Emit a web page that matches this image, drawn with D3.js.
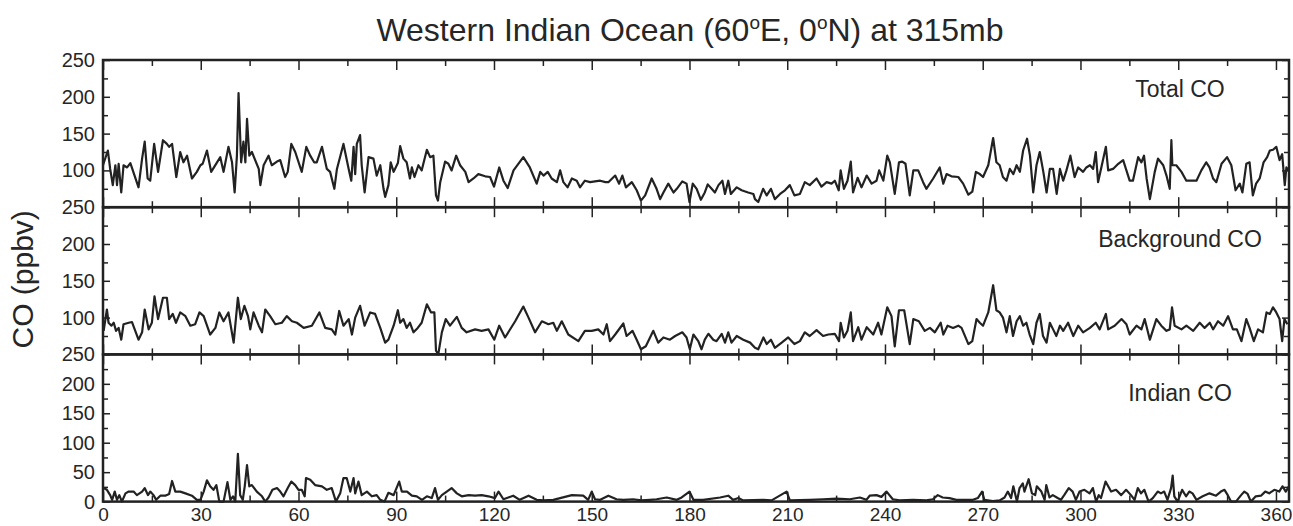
<!DOCTYPE html>
<meta charset="utf-8">
<script src="https://d3js.org/d3.v7.min.js"></script>
<head>
    <title>Western Indian Ocean CO</title>
    <style>
        body { margin: 0; background: #fff; }
        text { font-family: "Liberation Sans", Arial, sans-serif; fill: #262626; }
    </style>
</head>
<body>
<div id="chart"></div>
<script>
    // [day, ppbv]
    const totalCO = [[0,107],[1.5,127],[2.2,102],[3,80],[3.8,107],[4.3,80],[4.8,109],[5.6,70],[6.3,107],[7.4,104],[8.4,110],[10.9,77],[12,116],[12.8,139],[13.7,89],[14.5,86],[15.7,136],[16.9,98],[18.4,141],[19.6,136],[20.3,132],[21.2,136],[22.5,91],[23.7,125],[24.7,111],[25.8,120],[27.3,89],[28.8,98],[29.9,107],[30.6,109],[31.9,127],[33.2,98],[35,111],[36,118],[37,98],[38.5,132],[39.6,111],[40.4,70],[41.1,120],[41.6,205],[42.4,111],[43.1,139],[43.7,111],[44.2,170],[44.9,120],[45.7,125],[47.8,102],[48.3,80],[49.3,107],[50.8,120],[51.8,107],[53.4,112],[54.4,114],[55.9,91],[56.7,98],[57.8,136],[59,125],[61,98],[62.4,132],[63.6,120],[64.8,111],[65.6,111],[67.2,132],[68.7,102],[69.7,98],[71,75],[71.8,102],[73.8,136],[75.4,102],[76.2,86],[76.9,132],[77.4,95],[77.9,136],[78.9,148],[79.4,107],[80.3,70],[81.5,118],[83,116],[84,93],[85.1,107],[86.1,75],[86.6,64],[87.6,80],[88.3,111],[89.2,98],[90.5,110],[91.2,133],[92.2,116],[93.2,111],[94.2,89],[94.8,104],[95.6,91],[96.8,107],[97.8,100],[99.4,128],[100.4,118],[101.4,120],[102.2,66],[102.8,59],[103.5,84],[105,112],[106,109],[107,100],[108.4,120],[109.6,107],[111.2,98],[112.2,84],[113.7,89],[115.2,95],[117.3,92],[118.8,91],[120,78],[121.6,104],[122.9,86],[124.2,76],[126,100],[129,118],[131,104],[133.1,82],[134.2,98],[135.2,93],[136.5,98],[137.7,89],[139.3,84],[140.3,100],[141.3,84],[142.6,77],[143.9,89],[145.4,86],[146.4,77],[147.9,86],[149.5,84],[151,85],[152.6,86],[154.2,84],[155.1,84],[157.2,93],[158.4,82],[159.4,93],[160.5,77],[162.3,84],[163.8,73],[165.1,59],[166.4,66],[168.4,89],[169.9,75],[171,61],[172,70],[173.5,82],[175.1,70],[176.1,75],[177.8,85],[179.1,82],[180,57],[181,82],[182.2,75],[183.5,60],[184.7,70],[185.6,81],[186.8,75],[187.8,70],[188.9,80],[190.1,86],[190.9,68],[191.9,86],[192.7,68],[194.5,77],[196,73],[198,70],[199.6,68],[200.1,61],[201.1,57],[202.6,75],[203.7,66],[205,75],[206.2,61],[207.8,68],[209.3,73],[210.8,80],[212.2,66],[213.9,68],[215.4,84],[216.9,80],[219,89],[220.5,78],[222.1,84],[223.6,82],[224.6,86],[225.8,73],[226.4,100],[227.4,75],[228.5,86],[229.5,112],[230.2,70],[231.6,90],[232.8,77],[234.4,93],[235.9,82],[237.4,86],[238.2,100],[239.5,86],[240.7,120],[241.5,111],[243,68],[244.3,111],[245.3,112],[246.3,109],[247.6,66],[248.7,100],[250.2,100],[251.7,84],[252.7,75],[254.8,89],[256.8,104],[257.9,82],[258.9,95],[260.4,92],[262.5,91],[264,82],[265.6,67],[266.8,71],[267.9,98],[269.1,95],[270.1,91],[271.7,107],[273.2,144],[274.2,111],[275.2,107],[276.2,91],[277.3,86],[278.3,102],[279.4,95],[280.4,107],[281.4,98],[282.4,127],[283.6,143],[284.5,120],[285.5,70],[286.5,107],[287.5,125],[288.6,98],[289.6,70],[290.6,102],[291.6,102],[292.7,68],[293.7,102],[294.7,86],[295.7,100],[296.9,120],[298.2,91],[299.3,104],[300.8,98],[301.8,104],[302.9,107],[303.9,102],[304.7,125],[305.4,84],[306.4,104],[307.8,132],[308.5,100],[310,102],[311.6,109],[313.1,114],[314.1,100],[315.1,86],[316.1,86],[317.7,118],[318.7,111],[319.5,120],[320.3,89],[321.3,61],[322.8,98],[323.8,116],[325.4,107],[326.4,93],[327.4,75],[327.9,141],[328.2,107],[329.4,107],[331,98],[332.5,86],[334.1,86],[335.6,86],[337.1,100],[338.6,111],[339.6,104],[340.7,89],[341.7,84],[343.3,109],[345,118],[346.3,107],[347.6,73],[348.9,82],[349.7,70],[350.9,109],[351.9,111],[352.9,66],[353.9,82],[355,89],[356.2,111],[357.3,118],[358.1,127],[359.1,128],[360.1,132],[361.1,114],[361.9,122],[362.7,80],[363.2,104],[364,100]];

    const backgroundCO = [[0.2,82],[1.2,111],[1.7,93],[2.6,89],[3.3,93],[4,82],[4.8,86],[5.6,70],[6.3,91],[7.9,93],[8.9,94],[10.9,70],[12,80],[12.8,111],[14,84],[15,93],[15.8,129],[16.9,98],[18.4,127],[19.6,127],[20.3,98],[21.4,105],[22.4,93],[23.7,107],[25.3,102],[26.8,89],[28.3,91],[29.6,107],[30.9,102],[32.9,77],[34.5,86],[35.7,107],[37,95],[38.5,107],[40.1,66],[41.4,127],[42.3,98],[43.4,116],[44.5,102],[45.2,84],[46.2,107],[47.8,89],[48.8,80],[49.8,111],[51.3,102],[52.9,91],[54.9,93],[56.4,102],[58,95],[59.5,93],[61.6,86],[64.1,89],[66.4,107],[68.2,86],[70.2,84],[71.3,77],[72.5,109],[73.8,89],[75.4,98],[76.4,77],[77.4,100],[78.9,116],[80.3,89],[82,107],[83.5,105],[85.1,86],[86.6,66],[87.6,70],[89.2,89],[90.5,110],[91.2,93],[92.2,98],[93.2,86],[94.2,93],[95.3,80],[96.6,86],[97.8,93],[99.4,118],[100.7,107],[101.7,107],[102.2,55],[102.9,50],[104,80],[105.2,98],[106.5,89],[108.6,101],[110.1,86],[111.6,80],[114.2,84],[116.2,82],[118.3,84],[120.1,70],[121.6,89],[123.4,73],[126.5,95],[129,115],[130.6,100],[132.6,80],[134.7,95],[136.7,91],[138.2,93],[139.3,82],[140.8,95],[142.8,77],[145.9,68],[147.9,82],[150,82],[152,84],[153.6,77],[154.6,91],[155.6,68],[157.2,77],[159.7,92],[160.7,75],[162.5,82],[163.8,70],[165.1,57],[166.6,61],[168.9,82],[170.4,66],[172,73],[174,70],[175.6,75],[177.8,80],[179.1,73],[180.1,57],[181.2,77],[182.7,68],[183.7,57],[184.7,70],[185.8,78],[187.3,70],[188.3,68],[189.9,78],[190.9,66],[191.9,80],[192.9,66],[194.5,75],[196.5,70],[198.6,66],[200.1,59],[201.1,57],[202.7,73],[203.7,64],[205,70],[206.2,59],[208.3,66],[210.3,73],[212.2,64],[213.9,68],[215.4,80],[216.9,75],[219,83],[221,75],[222.6,77],[224.6,78],[225.9,68],[226.4,93],[227.4,73],[228.5,82],[229.5,107],[230.2,68],[231.8,87],[232.8,70],[234.4,87],[236.4,77],[237.9,93],[238.9,77],[240.7,114],[242,102],[243,61],[244.3,110],[245.9,110],[247.6,64],[248.7,98],[250.4,95],[252.2,82],[253.8,86],[255.3,80],[257.1,93],[257.9,77],[259.2,89],[260.9,86],[262.5,89],[263.5,86],[265.6,64],[266.8,68],[268.1,98],[269.1,93],[270.1,89],[271.7,107],[273.2,144],[274.2,110],[275.2,107],[276.2,100],[277.3,80],[278.3,102],[279.3,75],[280.4,95],[281.4,102],[282.4,89],[283.4,93],[284.4,77],[285.5,64],[286.5,93],[287.5,105],[288.5,75],[289.6,66],[290.6,93],[291.6,84],[292.6,75],[293.7,89],[294.7,82],[296.2,93],[297.8,75],[299.3,89],[300.8,80],[302.9,86],[304.7,93],[305.9,84],[307.8,105],[308.5,84],[310.5,89],[312.6,98],[314.1,91],[315.1,77],[317.2,89],[318.7,84],[319.7,98],[321.3,70],[323.3,98],[324.8,89],[326.4,82],[327.4,84],[328.1,114],[328.9,89],[331,84],[332.5,89],[334.6,82],[336.6,93],[338.1,86],[339.7,93],[340.7,84],[342.2,95],[343.8,89],[345.3,102],[346.8,84],[348,84],[349.4,68],[350.9,98],[351.9,86],[353.2,68],[354.5,84],[356,80],[357.1,107],[358.1,105],[359.1,114],[360.1,107],[361.1,98],[361.9,68],[362.6,98],[363.5,91]];

    const indianCO = [[0.2,23],[1.2,20],[2.2,11],[2.8,3],[3.6,17],[4.3,3],[5,11],[5.8,0],[6.9,14],[7.9,17],[9.4,17],[10.4,11],[12,17],[12.8,23],[13.8,11],[14.5,17],[15.5,11],[16.3,3],[17.6,10],[19.1,10],[20.3,13],[21.2,35],[22.2,17],[23.7,17],[25.3,14],[27.3,10],[28.8,3],[29.9,3],[30.9,17],[31.9,36],[32.9,26],[33.9,20],[34.8,28],[35.7,0],[37,0],[38.2,33],[39.1,3],[39.9,9],[40.6,0],[41.4,81],[42.1,11],[42.9,3],[43.5,26],[44.2,62],[44.9,26],[45.7,28],[47.2,17],[48.8,9],[49.8,0],[50.8,7],[52,20],[53.4,23],[54.4,17],[55.4,9],[56.7,23],[57.8,34],[59,28],[60,20],[61,20],[61.9,9],[62.3,40],[63.6,37],[65.1,28],[67.2,26],[68.7,20],[70.2,23],[71.5,0],[72.8,14],[73.8,40],[74.8,40],[75.9,17],[76.9,40],[77.4,14],[78.4,34],[79.4,11],[81,17],[82.5,9],[84,11],[85.1,3],[86.4,0],[87.6,15],[89.2,11],[90.9,34],[91.7,17],[93.3,17],[94.8,10],[96.3,9],[97.9,3],[99.4,9],[100.9,6],[101.9,23],[102.8,3],[104,11],[105.5,17],[107,23],[108.6,14],[110.1,9],[112.2,11],[114.2,10],[116.2,11],[118.3,9],[120.3,6],[121.4,17],[122.9,4],[125.9,10],[127.9,3],[130.6,10],[133.1,3],[135.2,2],[138.2,3],[143.9,11],[147.4,10],[148.9,3],[150,17],[151,4],[152.6,3],[155.1,10],[157.6,4],[159.7,3],[162.7,4],[165.2,2],[167.8,3],[169.9,4],[173,7],[176.1,3],[177.6,7],[180,17],[181.2,3],[184.2,3],[189.4,7],[191.9,10],[193.4,3],[195,6],[196.5,2],[202.6,3],[205.2,2],[209.8,17],[210.8,2],[216.9,3],[221,4],[225.1,5],[229.2,4],[232.3,7],[234.3,3],[235.3,10],[237.4,11],[238.9,8],[240.5,17],[242.4,4],[244.5,2],[248.6,3],[252.7,2],[254.7,4],[256.2,11],[257.7,7],[259.8,6],[261.9,3],[264.4,3],[267,3],[268.5,6],[269.8,17],[270.5,3],[273.1,1],[275.2,2],[276.7,7],[277.7,17],[278.7,6],[279.4,26],[280.5,0],[281.3,23],[282.3,31],[282.8,17],[284.1,38],[285.1,14],[286.1,11],[286.6,26],[288,17],[289,3],[289.5,28],[290.5,7],[291.5,11],[293,6],[294,3],[295,11],[296.4,23],[297.6,17],[298.6,3],[299.7,17],[301.2,20],[302.8,14],[303.8,23],[304.8,0],[305.6,11],[306.3,6],[307.7,34],[309.4,17],[310.9,20],[312.5,11],[314,20],[315.5,11],[316.6,3],[317.6,23],[318.6,14],[319.6,20],[320.9,0],[322.2,6],[323.7,17],[324.7,14],[325.7,17],[326.7,3],[327.8,23],[328.3,44],[328.8,9],[329.8,0],[331.2,20],[332.4,9],[333.4,17],[334.4,14],[335.6,3],[337.5,9],[339.6,14],[341.6,10],[343.1,17],[344.2,20],[345.2,11],[346.2,0],[347.7,0],[349.3,11],[350.3,17],[351.3,13],[352.3,0],[353.8,9],[355.4,10],[356.7,17],[357.9,14],[359.5,20],[361,17],[362,26],[363,17],[364,26]];

    const panelSeries = [totalCO, backgroundCO, indianCO];
    const panelLabels = ["Total CO", "Background CO", "Indian CO"];
    const panelYMin = [50, 50, 0];
    const panelYMax = [250, 250, 250];

    const xMajorTicks = [0, 30, 60, 90, 120, 150, 180, 210, 240, 270, 300, 330, 360];
    const xMinorTicks = [15, 45, 75, 105, 135, 165, 195, 225, 255, 285, 315, 345];
    const yLabelTicks = [[100, 150, 200, 250], [100, 150, 200, 250], [0, 50, 100, 150, 200, 250]];
    const yMinorTicks = [[75, 125, 175, 225], [75, 125, 175, 225], [25, 75, 125, 175, 225]];

    // layout
    const margin = {top: 60, right: 4, bottom: 24, left: 103},
          W = 1293, H = 526,
          width = W - margin.left - margin.right,
          panelH = 147.2;

    const svg = d3.select("#chart")
        .append("svg")
        .attr("width", W)
        .attr("height", H);

    const x = d3.scaleLinear()
        .domain([0, 364])
        .range([0, width]);

    const styleAxis = (g, hideText) => {
        g.select(".domain").remove();
        g.selectAll(".tick line").attr("stroke", "#222").attr("stroke-width", 1.5);
        if (hideText) g.selectAll(".tick text").remove();
    };

    panelSeries.forEach((series, i) => {
        const g = svg.append("g")
            .attr("transform", `translate(${margin.left}, ${margin.top + i * panelH})`);

        const y = d3.scaleLinear()
            .domain([panelYMin[i], panelYMax[i]])
            .range([panelH, 0]);

        // x ticks pointing inward, top and bottom
        g.append("g").call(d3.axisBottom(x).tickValues(xMajorTicks).tickSize(10)).call(styleAxis, true);
        g.append("g").call(d3.axisBottom(x).tickValues(xMinorTicks).tickSize(6)).call(styleAxis, true);
        g.append("g").attr("transform", `translate(0, ${panelH})`)
            .call(d3.axisTop(x).tickValues(xMajorTicks).tickSize(10)).call(styleAxis, true);
        g.append("g").attr("transform", `translate(0, ${panelH})`)
            .call(d3.axisTop(x).tickValues(xMinorTicks).tickSize(6)).call(styleAxis, true);

        // y ticks pointing inward, labels on the left
        g.append("g")
            .call(d3.axisLeft(y).tickValues(yLabelTicks[i]).tickSize(-7).tickPadding(8))
            .call(styleAxis, false)
            .selectAll("text")
            .style("font-size", "20px")
            .attr("fill", "#262626");
        g.append("g").call(d3.axisLeft(y).tickValues(yMinorTicks[i]).tickSize(-5)).call(styleAxis, true);
        g.append("g").attr("transform", `translate(${width}, 0)`)
            .call(d3.axisRight(y).tickValues(yLabelTicks[i]).tickSize(-7)).call(styleAxis, true);
        g.append("g").attr("transform", `translate(${width}, 0)`)
            .call(d3.axisRight(y).tickValues(yMinorTicks[i]).tickSize(-5)).call(styleAxis, true);

        const line = d3.line()
            .x(d => x(d[0]))
            .y(d => y(d[1]));

        g.append("path")
            .datum(series)
            .attr("d", line)
            .attr("fill", "none")
            .attr("stroke", "#222")
            .attr("stroke-width", 2.2)
            .attr("stroke-linejoin", "round");

        g.append("rect")
            .attr("width", width)
            .attr("height", panelH)
            .attr("fill", "none")
            .attr("stroke", "#222")
            .attr("stroke-width", 2.5);

        g.append("text")
            .attr("x", width - 109)
            .attr("y", [37, 40, 47][i])
            .attr("text-anchor", "middle")
            .style("font-size", "23px")
            .text(panelLabels[i]);

        if (i === panelSeries.length - 1) {
            g.append("g")
                .attr("transform", `translate(0, ${panelH})`)
                .call(d3.axisBottom(x).tickValues(xMajorTicks).tickSize(0).tickPadding(6))
                .call(styleAxis, false)
                .selectAll("text")
                .style("font-size", "19px")
                .attr("fill", "#262626");
        }
    });

    // title with superscript degree marks
    const title = svg.append("text")
        .attr("x", margin.left + width / 2 - 6)
        .attr("y", 41)
        .attr("text-anchor", "middle")
        .style("font-size", "32px");
    title.append("tspan").text("Western Indian Ocean (60");
    title.append("tspan").attr("dy", -12).style("font-size", "19px").text("o");
    title.append("tspan").attr("dy", 12).text("E, 0");
    title.append("tspan").attr("dy", -12).style("font-size", "19px").text("o");
    title.append("tspan").attr("dy", 12).text("N) at 315mb");

    svg.append("text")
        .attr("transform", `translate(33, ${margin.top + 1.49 * panelH}) rotate(-90)`)
        .attr("text-anchor", "middle")
        .style("font-size", "30px")
        .text("CO (ppbv)");
</script>
</body>
